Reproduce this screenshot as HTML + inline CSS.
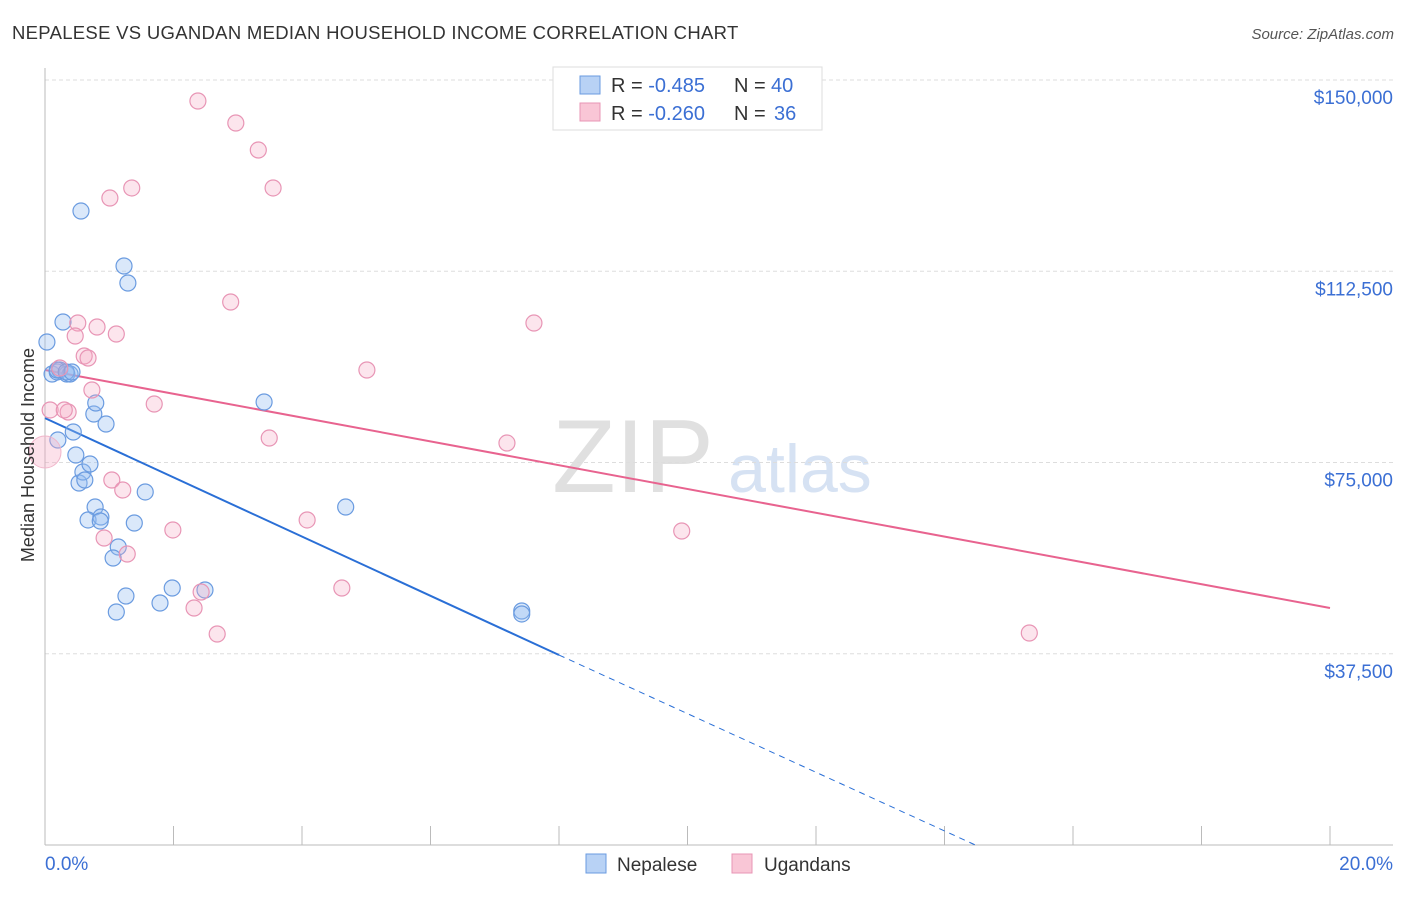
<!DOCTYPE html>
<html><head><meta charset="utf-8"><style>
body{margin:0;background:#fff;font-family:"Liberation Sans",sans-serif;}
svg text{font-family:"Liberation Sans",sans-serif;}
</style></head><body>
<svg id="chart" width="1406" height="892" xmlns="http://www.w3.org/2000/svg">
<text x="12" y="39" font-size="18.5" letter-spacing="0.3" fill="#333">NEPALESE VS UGANDAN MEDIAN HOUSEHOLD INCOME CORRELATION CHART</text>
<text x="1394" y="39" font-size="15" fill="#555" font-style="italic" text-anchor="end">Source: ZipAtlas.com</text>
<g>
<text x="633" y="492" font-size="104" fill="#e0e0e0" font-family="Liberation Serif" text-anchor="middle">ZIP</text>
<text x="800" y="492" font-size="68" fill="#d6e2f3" text-anchor="middle">atlas</text>
</g>
<g id="grid"></g><g id="axes"></g><g id="lines"></g><g id="points"></g>
<text transform="translate(34,455) rotate(-90)" font-size="18" fill="#333" text-anchor="middle">Median Household Income</text>
<g>
<rect x="553" y="67" width="269" height="63" fill="#fff" stroke="#ddd"/>
<rect x="580" y="76" width="20" height="18" fill="#b8d2f5" stroke="#6a9be0"/>
<rect x="580" y="103" width="20" height="18" fill="#f9c6d6" stroke="#e895b5"/>
<text x="611" y="92" font-size="20" fill="#333">R = <tspan fill="#3b6fd4">-0.485</tspan></text>
<text x="734" y="92" font-size="20" fill="#333">N = </text>
<text x="771" y="92" font-size="20" fill="#3b6fd4">40</text>
<text x="611" y="120" font-size="20" fill="#333">R = <tspan fill="#3b6fd4">-0.260</tspan></text>
<text x="734" y="120" font-size="20" fill="#333">N = </text>
<text x="774" y="120" font-size="20" fill="#3b6fd4">36</text>
</g>
<g>
<rect x="586" y="854" width="20" height="19" fill="#b8d2f5" stroke="#6a9be0"/>
<text x="617" y="871" font-size="19" fill="#333">Nepalese</text>
<rect x="732" y="854" width="20" height="19" fill="#f9c6d6" stroke="#e895b5"/>
<text x="764" y="871" font-size="19" fill="#333">Ugandans</text>
</g>
</svg>
<script>
const yTicks=[37500,75000,112500,150000];
const yTickLabels=["$37,500","$75,000","$112,500","$150,000"];
const xTickVals=[0,2,4,6,8,10,12,14,16,18,20];
const nepX=[0.03,0.11,0.19,0.23,0.28,0.34,0.39,0.20,0.44,0.48,0.53,0.59,0.62,0.70,0.56,0.76,0.79,0.78,0.67,0.87,0.86,0.95,1.14,1.06,1.23,1.29,1.39,1.56,1.26,1.11,1.79,1.98,2.49,3.41,4.68,7.42,7.42,0.19,0.33,0.42];
const nepY=[98630,92350,92750,93140,102550,92350,92350,79410,80980,76470,70980,73140,71570,74710,124310,84510,86670,66270,63730,64310,63530,82550,58430,56270,113530,110200,63140,69220,48820,45690,47450,50390,50000,86860,66270,45880,45300,93140,92750,92750];
const ugX=[0.08,0.36,0.51,0.47,0.61,0.67,0.81,1.11,0.73,1.01,1.35,2.38,2.97,3.32,3.55,2.89,1.70,1.04,1.21,0.92,1.28,1.99,2.32,2.43,2.68,3.49,4.08,4.62,5.01,7.19,7.61,9.91,15.32,0.23,0.30];
const ugY=[85300,84900,102350,99800,95880,95490,101570,100200,89220,126860,128830,145880,141570,136270,128830,106470,86470,71570,69610,60200,57060,61770,46470,49610,41370,79800,63730,50390,93140,78820,102350,61570,41570,93530,85300];
const ugBig=[0,77060];
const nepTrend=[[0,83700],[8.0,37250]];
const nepTrendExt=[[8.0,37250],[14.48,0]];
const ugTrend=[[0,93140],[20,46470]];
const NS="http://www.w3.org/2000/svg";
const X=v=>45+v*64.25, Y=v=>845-v/196.08;
function mk(t,a,p){const e=document.createElementNS(NS,t);for(const k in a)e.setAttribute(k,a[k]);p.appendChild(e);return e;}
const grid=document.getElementById('grid'),axes=document.getElementById('axes'),lines=document.getElementById('lines'),pts=document.getElementById('points');
yTicks.forEach((v,i)=>{
 const l=mk('line',{x1:45,x2:1393,y1:Y(v),y2:Y(v),stroke:'#ddd','stroke-dasharray':'4,3'},grid);
 
 
 const t=mk('text',{x:1393,y:Y(v)+24,'font-size':19,fill:'#3b6fd4','text-anchor':'end'},axes);
 t.textContent=yTickLabels[i];
 
 
});
const ya=mk('line',{x1:45,x2:45,y1:68,y2:845,stroke:'#bbb'},axes);


const xa=mk('line',{x1:45,x2:1393,y1:845,y2:845,stroke:'#bbb'},axes);


xTickVals.forEach(v=>{const t=mk('line',{x1:X(v),x2:X(v),y1:826,y2:845,stroke:'#bbb'},axes);
 
 });
const xl=mk('text',{x:45,y:870,'font-size':19,fill:'#3b6fd4'},axes);xl.textContent='0.0%';


const xr=mk('text',{x:1393,y:870,'font-size':19,fill:'#3b6fd4','text-anchor':'end'},axes);xr.textContent='20.0%';


nepX.forEach((x,i)=>{const c=mk('circle',{cx:X(x),cy:Y(nepY[i]),r:8,fill:'rgba(150,190,240,0.35)',stroke:'#6a9be0','stroke-width':1.2},pts);
 
 });
ugX.forEach((x,i)=>{const c=mk('circle',{cx:X(x),cy:Y(ugY[i]),r:8,fill:'rgba(245,170,195,0.3)',stroke:'#e895b5','stroke-width':1.2},pts);
 
 });
const big=mk('circle',{cx:X(ugBig[0]),cy:Y(ugBig[1]),r:16,fill:'rgba(245,170,195,0.35)',stroke:'#f0b5ca'},pts);


function ln(d,col,w,dash,name){const a={x1:X(d[0][0]),y1:Y(d[0][1]),x2:X(d[1][0]),y2:Y(d[1][1]),stroke:col,'stroke-width':w};if(dash)a['stroke-dasharray']=dash;const e=mk('line',a,lines);
 
 }
ln(nepTrend,'#2a6fd6',2,null,'nepalese-trend-line');
ln(nepTrendExt,'#2a6fd6',1,'6,5','nepalese-trend-extension');
ln(ugTrend,'#e8638f',2,null,'ugandan-trend-line');
</script>
</body></html>
